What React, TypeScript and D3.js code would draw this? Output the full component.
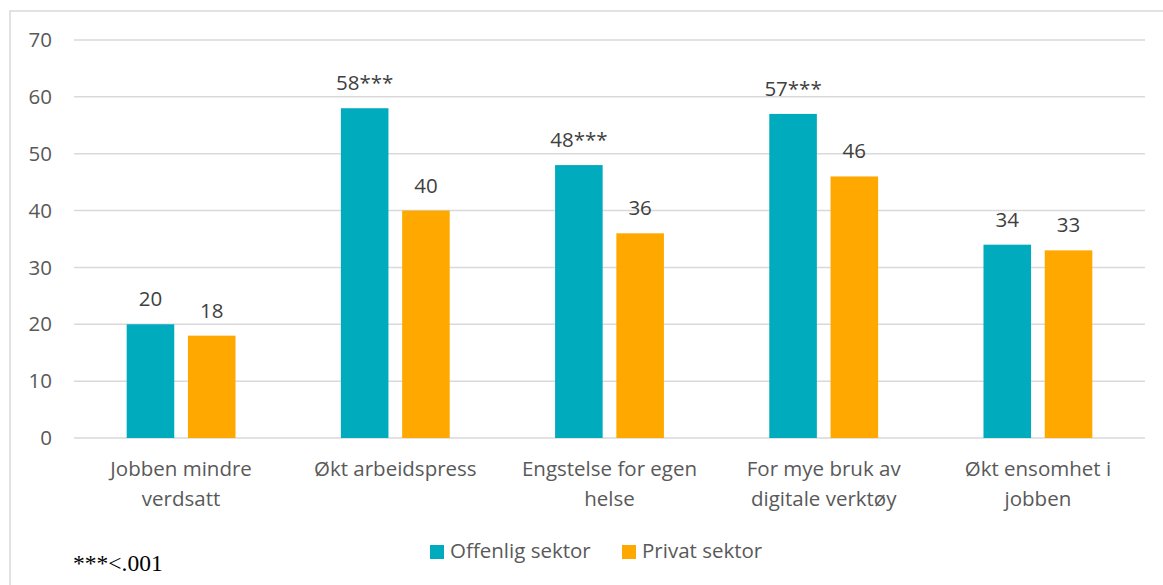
import { max, scaleBand, scaleLinear, select } from 'd3';
import { useEffect, useRef } from 'react';

const categories = [
  ['Jobben mindre', 'verdsatt'],
  ['Økt arbeidspress'],
  ['Engstelse for egen', 'helse'],
  ['For mye bruk av', 'digitale verktøy'],
  ['Økt ensomhet i', 'jobben']
];
const seriesNames = ['Offenlig sektor', 'Privat sektor'];
const offentlig = [20, 58, 48, 57, 34];
const privat = [18, 40, 36, 46, 33];
const significance = ['', '***', '***', '***', ''];
const yTicks = [0, 10, 20, 30, 40, 50, 60, 70];
const footnote = '***<.001';

const colors = ['#00ABBD', '#FFA800'];
const textColor = '#595959';
const gridColor = '#D9D9D9';
const font = '"Open Sans", sans-serif';
const fontSize = '20.5px';

function App(): JSX.Element {
  const svgRef = useRef<SVGSVGElement | null>(null);
  const width = 1163;
  const height = 585;
  const plot = { left: 74, right: 1145, top: 40, bottom: 438 };

  useEffect(() => {
    if (svgRef.current) svgRef.current.innerHTML = '';
    const svg = select(svgRef.current);
    svg.attr('width', width).attr('height', height);

    // frame
    svg
      .append('rect')
      .attr('x', 10)
      .attr('y', 11)
      .attr('width', 1300)
      .attr('height', 800)
      .attr('fill', 'white')
      .attr('stroke', gridColor)
      .attr('stroke-width', 1.5);

    const y = scaleLinear()
      .domain([0, max(yTicks) as number])
      .range([plot.bottom, plot.top]);

    const x0 = scaleBand<number>()
      .domain(categories.map((_c, i) => i))
      .range([plot.left, plot.right])
      .padding(0);

    const x1 = scaleBand<number>()
      .domain(seriesNames.map((_s, i) => i))
      .range([0, x0.bandwidth()])
      .paddingInner(0.2235)
      .paddingOuter(0.86);

    // grid + y labels
    yTicks.forEach((t) => {
      svg
        .append('line')
        .attr('x1', plot.left)
        .attr('x2', plot.right)
        .attr('y1', y(t))
        .attr('y2', y(t))
        .attr('stroke', gridColor)
        .attr('stroke-width', 1.5);

      svg
        .append('text')
        .attr('x', 52)
        .attr('y', y(t))
        .attr('dy', '0.35em')
        .attr('text-anchor', 'end')
        .attr('font-family', font)
        .attr('font-size', fontSize)
        .attr('fill', textColor)
        .text(t);
    });

    const series = [offentlig, privat];

    series.forEach((values, s) => {
      values.forEach((v, i) => {
        const bx = (x0(i) as number) + (x1(s) as number);
        svg
          .append('rect')
          .attr('x', bx)
          .attr('y', y(v))
          .attr('width', x1.bandwidth())
          .attr('height', y(0) - y(v))
          .attr('fill', colors[s]);

        svg
          .append('text')
          .attr('x', bx + x1.bandwidth() / 2)
          .attr('y', y(v) - 18)
          .attr('text-anchor', 'middle')
          .attr('font-family', font)
          .attr('font-size', fontSize)
          .attr('fill', '#404040')
          .text(s === 0 ? `${v}${significance[i]}` : `${v}`);
      });
    });

    // category labels
    categories.forEach((lines, i) => {
      const cx = (x0(i) as number) + x0.bandwidth() / 2;
      lines.forEach((ln, j) => {
        svg
          .append('text')
          .attr('x', cx)
          .attr('y', 476 + j * 29.5)
          .attr('text-anchor', 'middle')
          .attr('font-family', font)
          .attr('font-size', fontSize)
          .attr('fill', textColor)
          .text(ln);
      });
    });

    // legend
    const legendX = [430, 622];
    seriesNames.forEach((name, s) => {
      svg
        .append('rect')
        .attr('x', legendX[s])
        .attr('y', 545)
        .attr('width', 14)
        .attr('height', 14)
        .attr('fill', colors[s]);
      svg
        .append('text')
        .attr('x', legendX[s] + 20)
        .attr('y', 558)
        .attr('font-family', font)
        .attr('font-size', fontSize)
        .attr('fill', textColor)
        .text(name);
    });

    // footnote
    svg
      .append('text')
      .attr('x', 73)
      .attr('y', 571)
      .attr('font-family', '"Liberation Serif", serif')
      .attr('font-size', '23.5px')
      .attr('fill', '#000')
      .text(footnote);
  }, []);

  return (
    <div style={{ position: 'absolute', left: 0, top: 0 }}>
      <svg ref={svgRef} style={{ display: 'block' }} />
    </div>
  );
}
export default App;
